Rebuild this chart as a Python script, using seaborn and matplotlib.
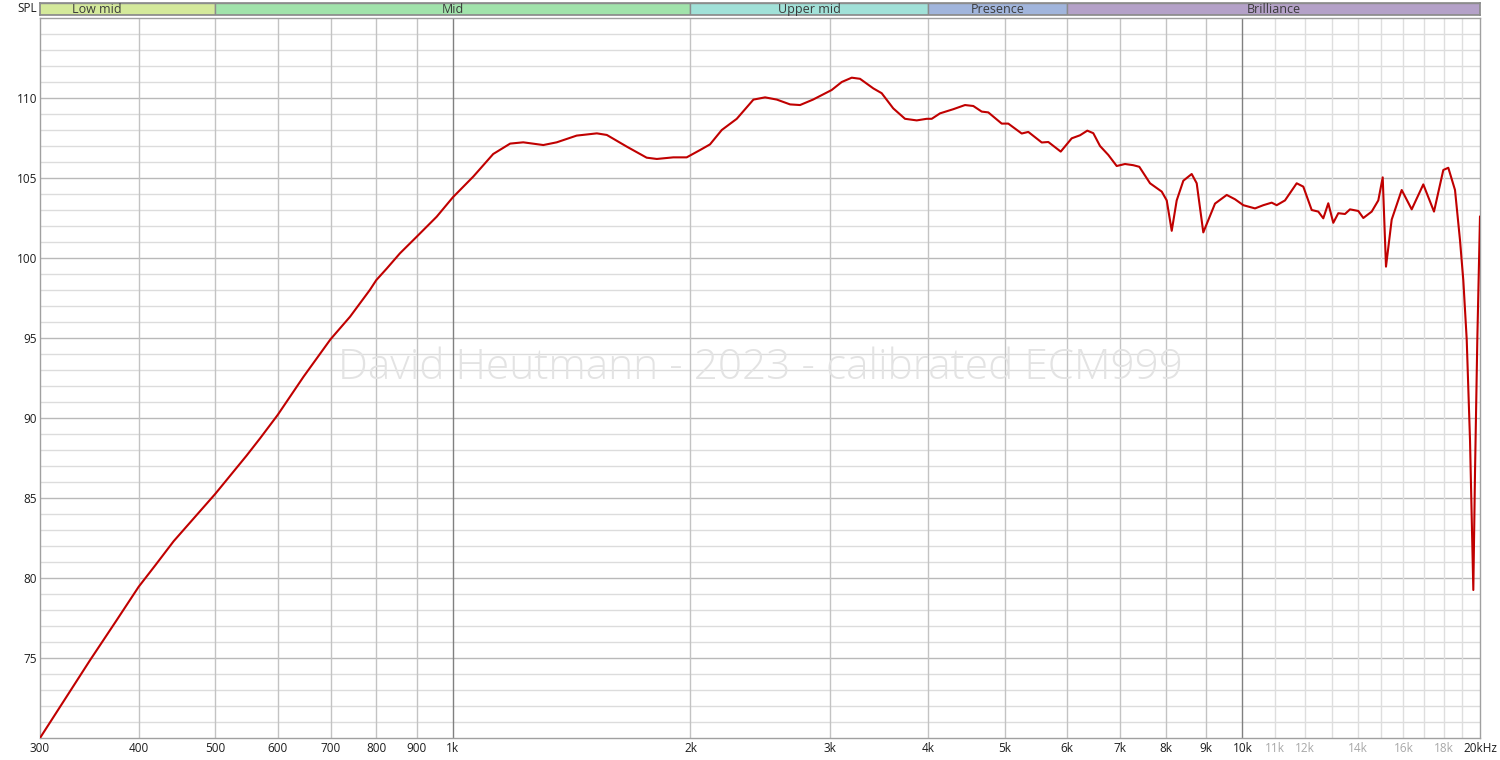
import numpy as np
import pandas as pd
import seaborn as sns
import matplotlib.pyplot as plt

# frequency response (Hz / dB SPL)
freq_hz = [300, 347, 375, 400, 420, 443, 500, 548, 570, 600, 647, 700,
           741, 785, 800, 825, 857, 900, 954, 1000, 1062, 1125,
           1182, 1228, 1302, 1354, 1435, 1522, 1567, 1661, 1760, 1813,
           1902, 1978, 2057, 2117, 2191, 2289, 2345, 2403, 2486, 2573,
           2674, 2753, 2859, 3019, 3109, 3201, 3279, 3409, 3493, 3613,
           3739, 3869, 3983, 4042, 4141, 4304, 4454, 4563, 4676, 4767,
           4957, 5053, 5255, 5357, 5571, 5679, 5888, 6080, 6229, 6363,
           6475, 6603, 6765, 6932, 7102, 7276, 7405, 7640, 7905, 8021,
           8139, 8258, 8419, 8627, 8754, 8924, 9234, 9555, 9789, 10029,
           10377, 10631, 10894, 11054, 11325, 11718, 11946, 12242, 12480, 12663,
           12849, 13038, 13230, 13490, 13689, 14024, 14231, 14583, 14867, 15059,
           15204, 15459, 15917, 16388, 16952, 17489, 17970, 18234, 18594, 18868,
           19050, 19240, 19426, 19614, 19711, 19844, 20000]
spl_db = [70.0, 74.85, 77.35, 79.45, 80.8, 82.3, 85.25, 87.65, 88.73, 90.19, 92.58, 94.92,
          96.33, 98.0, 98.62, 99.35, 100.29, 101.33, 102.58, 103.79, 105.1, 106.5,
          107.15, 107.23, 107.06, 107.23, 107.65, 107.79, 107.69, 106.96, 106.27, 106.19,
          106.29, 106.29, 106.75, 107.1, 108.0, 108.7, 109.3, 109.9, 110.04, 109.9,
          109.6, 109.56, 109.9, 110.5, 111.0, 111.27, 111.2, 110.6, 110.3, 109.35,
          108.7, 108.6, 108.7, 108.7, 109.04, 109.3, 109.56, 109.5, 109.15, 109.1,
          108.4, 108.4, 107.78, 107.88, 107.22, 107.25, 106.65, 107.48, 107.67, 107.96,
          107.8, 107.0, 106.44, 105.75, 105.875, 105.8, 105.7, 104.67, 104.15, 103.6,
          101.7, 103.6, 104.83, 105.25, 104.67, 101.6, 103.4, 103.94, 103.67, 103.3,
          103.1, 103.3, 103.46, 103.3, 103.6, 104.67, 104.46, 103.0, 102.9, 102.48,
          103.42, 102.2, 102.8, 102.75, 103.04, 102.94, 102.5, 102.9, 103.6, 105.04,
          99.46, 102.4, 104.25, 103.04, 104.6, 102.9, 105.5, 105.64, 104.25, 101.1,
          98.6, 94.9, 88.6, 79.25, 86.6, 94.9, 102.6]

# frequency bands shown in the header strip
band_names = ["Low mid", "Mid", "Upper mid", "Presence", "Brilliance"]
band_edges = [250, 500, 2000, 4000, 6000, 20000]
band_colors = ["#d4e99b", "#a1e3ab", "#a1e1d8", "#a1b5dc", "#b4a1c8"]

x_tick_values = [300, 400, 500, 600, 700, 800, 900, 1000, 2000, 3000, 4000, 5000,
                 6000, 7000, 8000, 9000, 10000, 11000, 12000, 14000, 16000, 18000, 20000]
x_tick_labels = ["300", "400", "500", "600", "700", "800", "900", "1k", "2k", "3k", "4k", "5k",
                 "6k", "7k", "8k", "9k", "10k", "11k", "12k", "14k", "16k", "18k", "20kHz"]
faint_labels = ["11k", "12k", "14k", "16k", "18k"]
y_tick_values = [75, 80, 85, 90, 95, 100, 105, 110]

watermark = "David Heutmann - 2023 - calibrated ECM999"

sns.set_theme(style="white")
plt.rcParams["font.family"] = ["Open Sans", "DejaVu Sans"]

W, H = 1500, 760
fig = plt.figure(figsize=(W / 100, H / 100), dpi=100)
ax = fig.add_axes([40 / W, 22 / H, 1440 / W, 720 / H])
band_ax = fig.add_axes([40 / W, 745 / H, 1440 / W, 12 / H])

# grid
for f in range(400, 1000, 100):
    ax.axvline(f, color="#c3c3c3", lw=1, zorder=0.5)
for f in range(2000, 10000, 1000):
    ax.axvline(f, color="#c3c3c3", lw=1, zorder=0.5)
for f in range(11000, 20000, 1000):
    ax.axvline(f, color="#dedede", lw=1, zorder=0.5)
for f in (1000, 10000):
    ax.axvline(f, color="#808080", lw=1, zorder=0.6)
for v in range(71, 115):
    ax.axhline(v, color="#b9b9b9" if v % 5 == 0 else "#dcdcdc", lw=1, zorder=0.4)

df = pd.DataFrame({"freq": freq_hz, "spl": spl_db})
sns.lineplot(data=df, x="freq", y="spl", estimator=None, sort=False,
             color="#c00000", linewidth=1.5, ax=ax, zorder=3)

ax.set_xscale("log")
ax.set_xlim(300, 20000)
ax.set_ylim(70, 115)
ax.set_xticks(x_tick_values)
ax.set_xticklabels(x_tick_labels)
ax.xaxis.set_minor_locator(plt.NullLocator())
ax.set_yticks(y_tick_values)
ax.set_yticklabels([str(v) for v in y_tick_values])
ax.tick_params(axis="both", length=0, labelsize=8.5, labelcolor="#1e1e1e")
ax.tick_params(axis="x", pad=3)
ax.tick_params(axis="y", pad=2)
for lab in ax.get_xticklabels():
    if lab.get_text() in faint_labels:
        lab.set_color("#a8a8a8")
ax.set_xlabel("")
ax.set_ylabel("")
for sp in ax.spines.values():
    sp.set_color("#a0a0a0")
    sp.set_linewidth(1)

ax.text(0.5, 0.514, watermark, transform=ax.transAxes, ha="center", va="center",
        fontsize=30.5, color="#e3e3e3", fontweight="light", zorder=1)

# header band strip
for name, lo, hi, col in zip(band_names, band_edges[:-1], band_edges[1:], band_colors):
    band_ax.barh(0, hi - lo, left=lo, height=1, color=col, edgecolor="#8c8c8c", linewidth=1)
    band_ax.text(np.sqrt(lo * hi), -0.05, name, ha="center", va="center",
                 fontsize=9, color="#3a3a3a")
band_ax.set_xscale("log")
band_ax.set_xlim(300, 20000)
band_ax.set_ylim(-0.5, 0.5)
band_ax.set_xticks([])
band_ax.set_yticks([])
band_ax.xaxis.set_minor_locator(plt.NullLocator())
for sp in band_ax.spines.values():
    sp.set_color("#8c8c8c")

fig.text(37 / W, 1 - 8 / H, "SPL", ha="right", va="center", fontsize=8.5, color="#1e1e1e")

fig.savefig("out.png", dpi=100)
